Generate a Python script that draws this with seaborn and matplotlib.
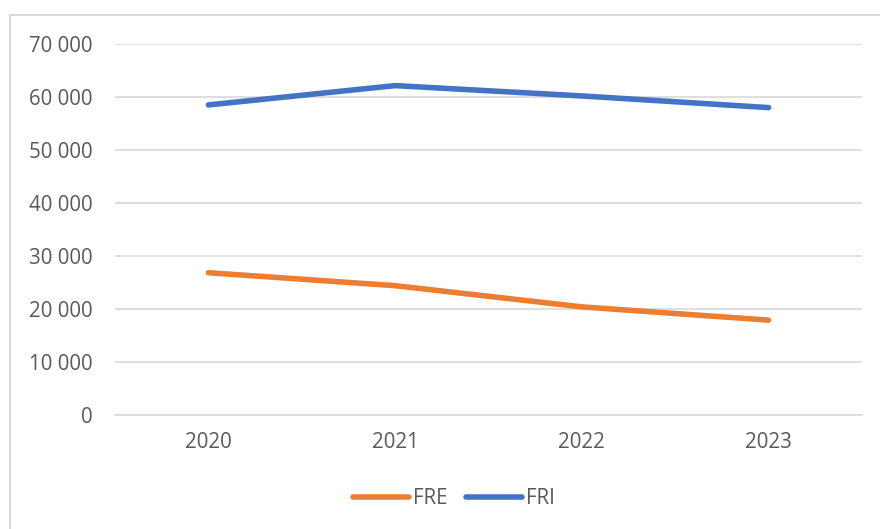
import seaborn as sns
import matplotlib.pyplot as plt
import pandas as pd
from matplotlib.patches import Rectangle
from matplotlib.ticker import FuncFormatter

years = ["2020", "2021", "2022", "2023"]
fre = [26850, 24400, 20400, 17900]
fri = [58500, 62150, 60200, 58000]
series_names = ["FRE", "FRI"]
colors = ["#ED7D31", "#4472C4"]

df = pd.DataFrame({
    "year": years * 2,
    "value": fre + fri,
    "series": ["FRE"] * len(years) + ["FRI"] * len(years),
})

sns.set_theme(style="white")
plt.rcParams["font.family"] = ["Open Sans", "DejaVu Sans"]
text_color = "#595959"
grid_color = "#D9D9D9"

fig = plt.figure(figsize=(8.8, 5.29), dpi=100)
ax = fig.add_axes([115 / 880, 1 - 415 / 529, (862 - 115) / 880, (415 - 44) / 529])

sns.lineplot(data=df, x="year", y="value", hue="series", hue_order=series_names,
             palette=colors, linewidth=4, ax=ax, sort=False)
for line in ax.lines:
    line.set_solid_capstyle("round")
    line.set_solid_joinstyle("round")

ax.set_xlim(-0.5, 3.5)
ax.set_ylim(0, 70000)
ax.set_yticks(range(0, 70001, 10000))
ax.yaxis.set_major_formatter(FuncFormatter(lambda v, p: f"{v:,.0f}".replace(",", " ")))
ax.grid(axis="y", color=grid_color, linewidth=1.2)
ax.set_axisbelow(True)
for s in ["top", "right", "left"]:
    ax.spines[s].set_visible(False)
ax.spines["bottom"].set_color(grid_color)
ax.spines["bottom"].set_linewidth(1.2)
ax.tick_params(axis="y", length=0, pad=16, labelsize=14.8, labelcolor=text_color)
ax.tick_params(axis="x", length=0, pad=12, labelsize=14.8, labelcolor=text_color)
ax.set_xlabel("")
ax.set_ylabel("")

# legend centred under the plot
ax.legend_.remove()
handles, labels = ax.get_legend_handles_labels()
for h in handles:
    h.set_solid_capstyle("round")
fig.legend(handles, labels, loc="center", bbox_to_anchor=(454 / 880, 1 - 499 / 529),
           ncol=2, frameon=False, fontsize=14.8, labelcolor=text_color,
           handlelength=2.7, handletextpad=0.2, columnspacing=0.9)

# chart frame, cut off at the right and bottom edges
fig.patches.append(Rectangle((10 / 880, -0.1), 1.2, 1.1 - 15 / 529, transform=fig.transFigure,
                             fill=False, edgecolor=grid_color, linewidth=1.5))

fig.savefig("out.png", dpi=100)
